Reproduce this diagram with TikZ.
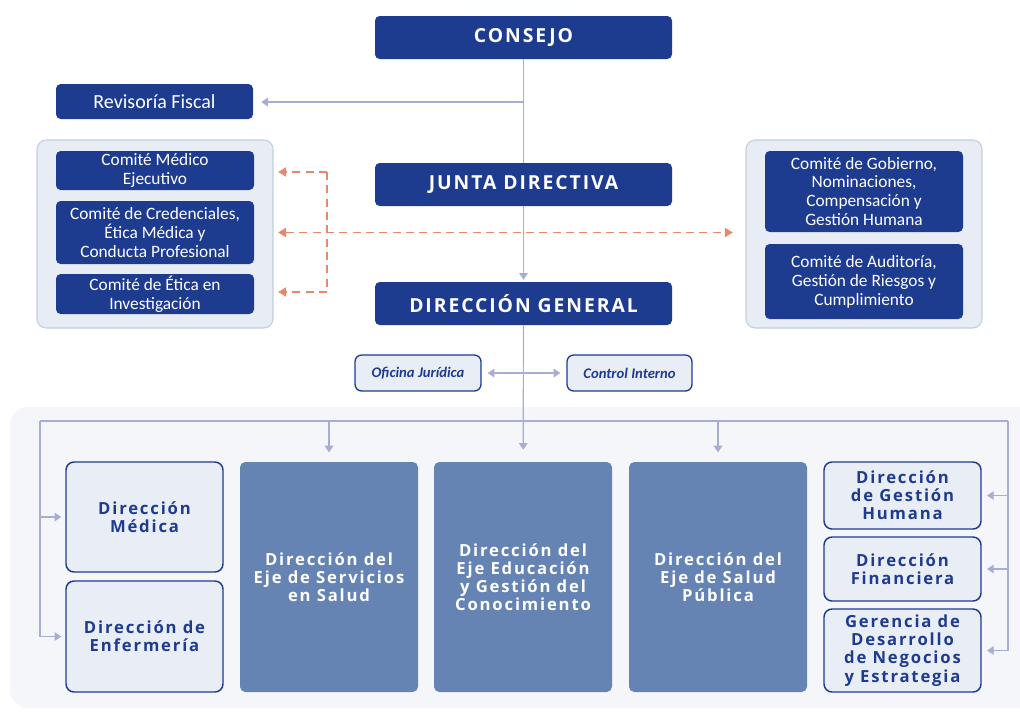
\documentclass[tikz,border=0pt]{standalone}
\usepackage{fontspec}
\setmainfont{Open Sans}
\newfontfamily\cond{Carlito}
\newfontfamily\wide[LetterSpace=10]{Open Sans}
\newfontfamily\widebox[LetterSpace=11]{Open Sans}
\usetikzlibrary{arrows.meta}
\definecolor{dblue}{HTML}{1E3C8F}
\definecolor{mblue}{HTML}{6584B4}
\definecolor{lfill}{HTML}{E9EDF6}
\definecolor{gfill}{HTML}{E8EDF5}
\definecolor{gline}{HTML}{C3CEE2}
\definecolor{conn}{HTML}{A8ADD6}
\definecolor{orng}{HTML}{E8876A}
\definecolor{bgarea}{HTML}{F5F6F9}
\tikzset{
  sz/.style 2 args={minimum width={#1*0.75pt}, minimum height={#2*0.75pt}},
  dark/.style={fill=dblue, draw=none, rounded corners=3.5pt, inner sep=0pt, text=white, align=center},
  head/.style={dark, font=\wide\bfseries\fontsize{14.5}{16}\selectfont},
  comm/.style={dark, font=\cond\fontsize{13}{14.2}\selectfont},
  light/.style={fill=lfill, draw=dblue, line width=1.1pt, rounded corners=6pt, inner sep=0pt, text=dblue, align=center, font=\widebox\bfseries\fontsize{12.5}{13.6}\selectfont},
  axisbox/.style={fill=mblue, draw=none, rounded corners=4pt, inner sep=0pt, text=white, align=center, font=\widebox\bfseries\fontsize{12.5}{13.6}\selectfont},
  smallbox/.style={fill=lfill, draw=dblue, line width=1pt, rounded corners=5pt, inner sep=0pt, text=dblue, font=\cond\bfseries\itshape\fontsize{11}{12}\selectfont},
  group/.style={fill=gfill, draw=gline, line width=0.8pt, rounded corners=7pt, inner sep=0pt},
  ln/.style={draw=conn, line width=0.9pt},
  arr/.style={ln, -{Triangle[width=6.5pt,length=5pt]}},
  darr/.style={ln, {Triangle[width=6.5pt,length=5pt]}-{Triangle[width=6.5pt,length=5pt]}},
  odash/.style={draw=orng, line width=1pt, dash pattern=on 6pt off 4pt},
  oarr/.style={odash, -{Triangle[width=7pt,length=6pt]}},
  odarr/.style={odash, {Triangle[width=7pt,length=6pt]}-{Triangle[width=7pt,length=6pt]}}
}
\begin{document}
\begin{tikzpicture}[x=0.75pt,y=-0.75pt]
\useasboundingbox (0,0) rectangle (1020,711);
\clip (0,0) rectangle (1020,711);
\fill[white] (0,0) rectangle (1020,711);
\fill[bgarea, rounded corners=14pt] (10,407) rectangle (1060,708);

% groups
\node[group, sz={236}{188}] (gl) at (155,234) {};
\node[group, sz={236}{188}] (gr) at (864,234) {};

% top column
\node[head, sz={297}{43}] (consejo) at (523.5,37.5) {CONSEJO};
\node[head, sz={297}{43}] (junta) at (523.5,184.5) {JUNTA DIRECTIVA};
\node[head, sz={297}{43}] (dg) at (523.5,303.5) {DIRECCIÓN GENERAL};

\node[comm, sz={197}{35}, font=\cond\fontsize{15}{16}\selectfont] (rev) at (154.5,101.5) {Revisoría Fiscal};

\node[comm, sz={198}{39}] (cme) at (155,170.5) {Comité Médico\\Ejecutivo};
\node[comm, sz={198}{63}] (cred) at (155,232.5) {Comité de Credenciales,\\Ética Médica y\\Conducta Profesional};
\node[comm, sz={198}{40}] (cei) at (155,294) {Comité de Ética en\\Investigación};

\node[comm, sz={198}{81}] (cgob) at (864,191.5) {Comité de Gobierno,\\Nominaciones,\\Compensación y\\Gestión Humana};
\node[comm, sz={198}{75}] (caud) at (864,281.5) {Comité de Auditoría,\\Gestión de Riesgos y\\Cumplimiento};

\node[smallbox, sz={126}{36}] (oj) at (418,373) {Oficina Jurídica};
\node[smallbox, sz={125}{36}] (ci) at (629.5,373) {Control Interno};

% bottom
\node[light, sz={157}{110}] (med) at (144.5,517) {Dirección\\Médica};
\node[light, sz={157}{111}] (enf) at (144.5,636.5) {Dirección de\\Enfermería};
\node[axisbox, sz={178}{230}] (ser) at (329,577) {Dirección del\\Eje de Servicios\\en Salud};
\node[axisbox, sz={178}{230}] (edu) at (523,577) {Dirección del\\Eje Educación\\y Gestión del\\Conocimiento};
\node[axisbox, sz={178}{230}] (sp) at (718,577) {Dirección del\\Eje de Salud\\Pública};
\node[light, sz={157}{67}] (dgh) at (902.5,495.5) {Dirección\\de Gestión\\Humana};
\node[light, sz={157}{64}] (fin) at (902.5,569) {Dirección\\Financiera};
\node[light, sz={157}{83}] (ger) at (902.5,650.5) {Gerencia de\\Desarrollo\\de Negocios\\y Estrategia};

% connectors top
\draw[ln] (consejo) -- (junta);
\coordinate (rf) at (523.5,102);
\draw[arr, shorten >=6pt] (rf) -- (rf -| rev.east);
\draw[arr, shorten >=1.5pt] (junta) -- (dg);

% orange dashed
\coordinate (o1) at (327,172);
\coordinate (o3) at (327,292);
\draw[odash] (o1) -- (o3);
\draw[oarr, shorten >=3.5pt] (o1) -- (o1 -| gl.east);
\draw[oarr, shorten >=3.5pt] (o3) -- (o3 -| gl.east);
\draw[odarr, shorten <=3.5pt, shorten >=9.5pt] (gl.east |- cred) -- (gr.west |- cred);

% middle
\draw[darr, shorten <=4.5pt, shorten >=4.5pt] (oj) -- (ci);
\draw[arr, shorten >=9pt] (dg) -- (edu);

% bus
\coordinate (bl) at (40,421);
\coordinate (br) at (1008,421);
\draw[ln] (bl) -- (br);
\draw[arr, shorten >=3pt] (bl) |- (enf.west);
\draw[arr, shorten >=3pt] (bl |- med) -- (med.west);
\draw[arr, shorten >=4pt] (br) |- (ger.east);
\draw[arr, shorten >=4pt] (br |- dgh) -- (dgh.east);
\draw[arr, shorten >=4pt] (br |- fin) -- (fin.east);
\draw[arr, shorten >=7pt] (bl -| ser) -- (ser);
\draw[arr, shorten >=7pt] (bl -| sp) -- (sp);
\end{tikzpicture}
\end{document}
